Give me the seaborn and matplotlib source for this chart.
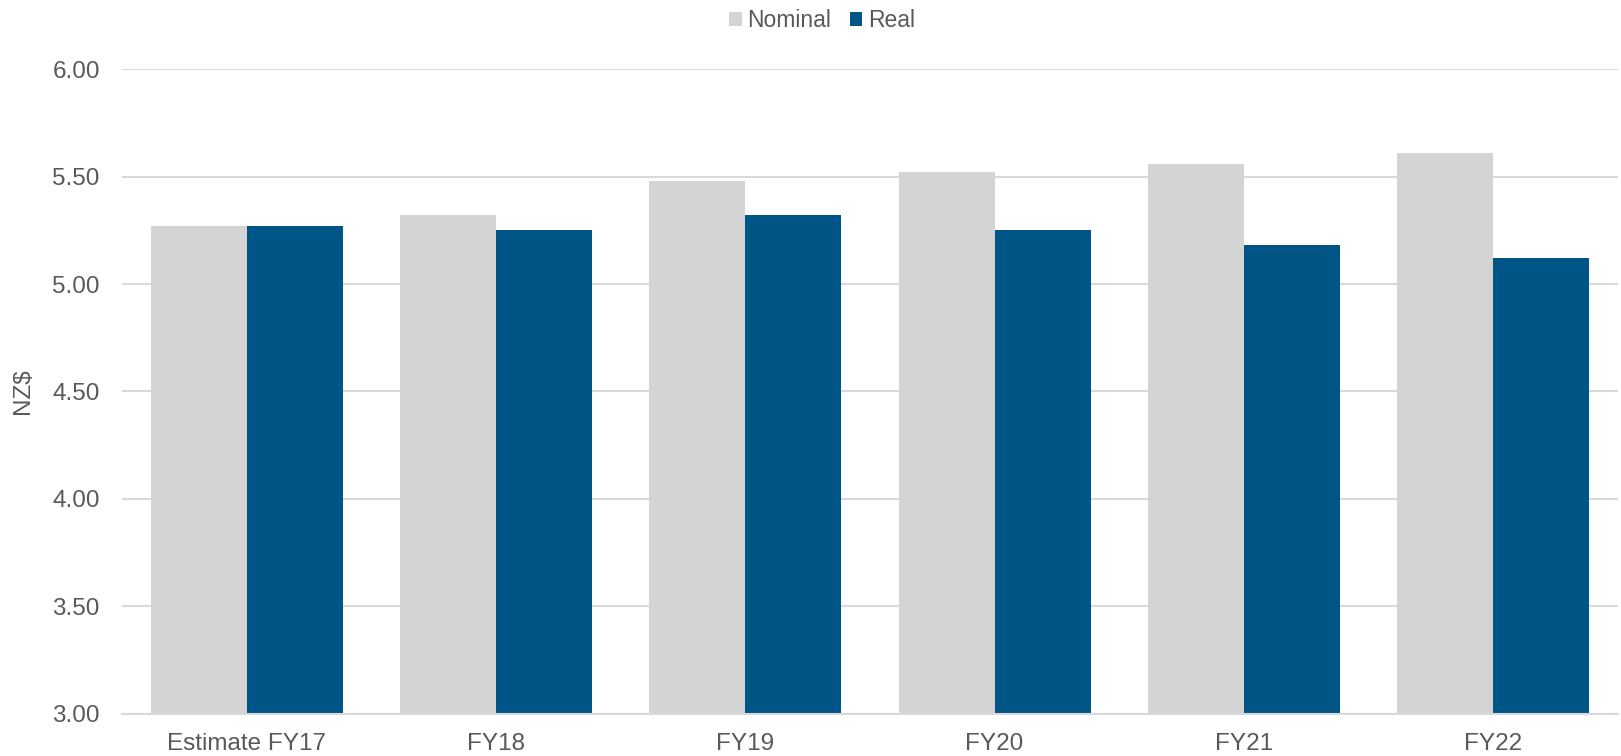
import matplotlib
matplotlib.use("Agg")
import matplotlib.pyplot as plt
import seaborn as sns
import pandas as pd

categories = ["Estimate FY17", "FY18", "FY19", "FY20", "FY21", "FY22"]
nominal = [5.27, 5.32, 5.48, 5.52, 5.56, 5.61]
real = [5.27, 5.25, 5.32, 5.25, 5.18, 5.12]
series_names = ["Nominal", "Real"]
colors = ["#d4d4d4", "#005587"]
y_ticks = [3.00, 3.50, 4.00, 4.50, 5.00, 5.50, 6.00]

df = pd.DataFrame({
    "category": categories * 2,
    "value": nominal + real,
    "series": [series_names[0]] * len(categories) + [series_names[1]] * len(categories),
})

sns.set_theme(style="white")
plt.rcParams["font.family"] = ["Liberation Sans", "DejaVu Sans"]
text_color = "#595959"
grid_color = "#d9d9d9"
fs = 17.5

fig = plt.figure(figsize=(16.21, 7.56), dpi=100)
ax = fig.add_axes([0.0753, 0.0556, 0.9227, 0.8531])

sns.barplot(data=df, x="category", y="value", hue="series",
            palette=colors, width=0.77, gap=0, saturation=1,
            ax=ax, legend=True, linewidth=0)

ax.set_ylim(3.0, 6.0)
ax.set_yticks(y_ticks)
ax.set_yticklabels([f"{t:.2f}" for t in y_ticks])
ax.set_xlim(-0.5, len(categories) - 0.5)
ax.yaxis.grid(True, color=grid_color, linewidth=1.5)
ax.set_axisbelow(True)
for side in ["left", "right", "top"]:
    ax.spines[side].set_visible(False)
ax.spines["bottom"].set_color(grid_color)
ax.spines["bottom"].set_linewidth(1.5)
ax.tick_params(axis="both", length=0, colors=text_color, labelsize=fs)
ax.tick_params(axis="x", pad=14)
ax.tick_params(axis="y", pad=16)
ax.set_xlabel("")
ax.set_ylabel("NZ$", fontsize=fs, color=text_color, labelpad=13)

leg = ax.legend(loc="upper center", bbox_to_anchor=(0.468, 1.125),
                ncol=2, frameon=False, fontsize=16.5,
                handlelength=0.55, handleheight=0.55, handletextpad=0.25,
                columnspacing=0.8)
for t in leg.get_texts():
    t.set_color(text_color)

fig.savefig("out.png", dpi=100)
